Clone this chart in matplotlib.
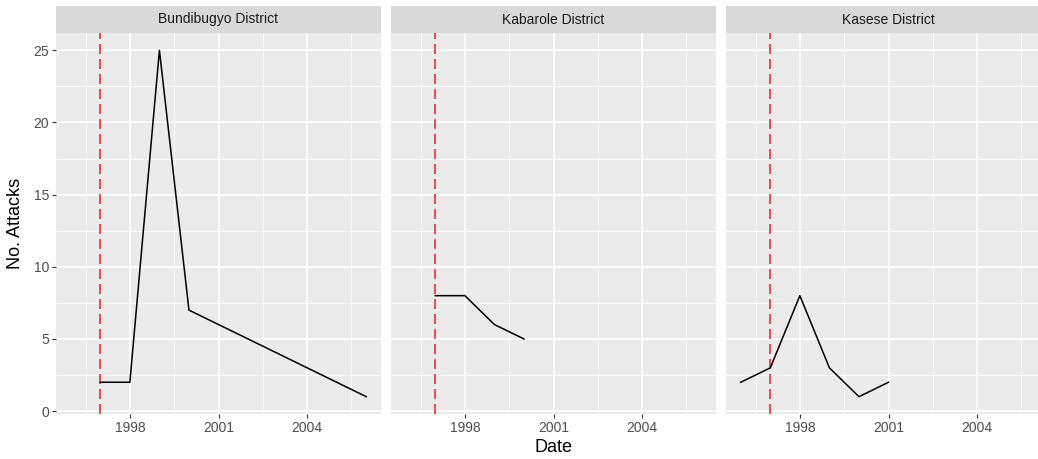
import matplotlib
matplotlib.use("Agg")
import matplotlib.pyplot as plt
from matplotlib.ticker import MultipleLocator, FixedLocator

plt.rcParams["font.family"] = ["Liberation Sans", "DejaVu Sans"]

# data
districts = ["Bundibugyo District", "Kabarole District", "Kasese District"]
years_bundibugyo = [1997, 1998, 1999, 2000, 2006]
attacks_bundibugyo = [2, 2, 25, 7, 1]
years_kabarole = [1997, 1998, 1999, 2000]
attacks_kabarole = [8, 8, 6, 5]
years_kasese = [1996, 1997, 1998, 1999, 2000, 2001]
attacks_kasese = [2, 3, 8, 3, 1, 2]
intervention_year = 1997

series = [
    (years_bundibugyo, attacks_bundibugyo),
    (years_kabarole, attacks_kabarole),
    (years_kasese, attacks_kasese),
]

W, H = 1038, 459
fig = plt.figure(figsize=(W / 100, H / 100), dpi=100)

panel_left = [56, 391, 726]
panel_w = 325  # px
top_px, bottom_px, strip_top = 33, 414, 6

for i, (name, (xs, ys)) in enumerate(zip(districts, series)):
    l = panel_left[i]
    ax = fig.add_axes([l / W, 1 - bottom_px / H, panel_w / W, (bottom_px - top_px) / H])
    ax.set_facecolor("#EBEBEB")
    for s in ax.spines.values():
        s.set_visible(False)

    ax.set_xlim(1995.5, 2006.5)
    ax.set_ylim(-0.2, 26.2)
    ax.xaxis.set_major_locator(FixedLocator([1998, 2001, 2004]))
    ax.xaxis.set_minor_locator(FixedLocator([1996.5, 1999.5, 2002.5, 2005.5]))
    ax.yaxis.set_major_locator(MultipleLocator(5))
    ax.yaxis.set_minor_locator(MultipleLocator(2.5))
    ax.grid(which="major", color="white", linewidth=1.1)
    ax.grid(which="minor", color="white", linewidth=0.55)
    ax.set_axisbelow(True)

    ax.tick_params(which="major", length=3, width=0.8, color="#333333",
                   labelcolor="#4D4D4D", labelsize=10, pad=2)
    ax.tick_params(which="minor", length=0)
    if i > 0:
        ax.tick_params(axis="y", which="major", length=0, labelleft=False)

    ax.axvline(intervention_year, color="#E8302F", linewidth=1.2, dashes=(6, 3), zorder=3)
    ax.plot(xs, ys, color="black", linewidth=1.1, zorder=4)

    # strip
    sax = fig.add_axes([l / W, 1 - top_px / H, panel_w / W, (top_px - strip_top) / H])
    sax.set_facecolor("#D9D9D9")
    sax.set_xticks([])
    sax.set_yticks([])
    for s in sax.spines.values():
        s.set_visible(False)
    sax.text(0.5, 0.5, name, ha="center", va="center", fontsize=10,
             color="#1A1A1A", transform=sax.transAxes)

fig.text((panel_left[0] + panel_left[2] + panel_w) / 2 / W, 1 - 448 / H, "Date",
         ha="center", va="center", fontsize=13, color="black")
fig.text(16 / W, 1 - (top_px + bottom_px) / 2 / H, "No. Attacks", rotation=90,
         ha="center", va="center", fontsize=13, color="black")

fig.savefig("out.png", dpi=100, facecolor="white")
